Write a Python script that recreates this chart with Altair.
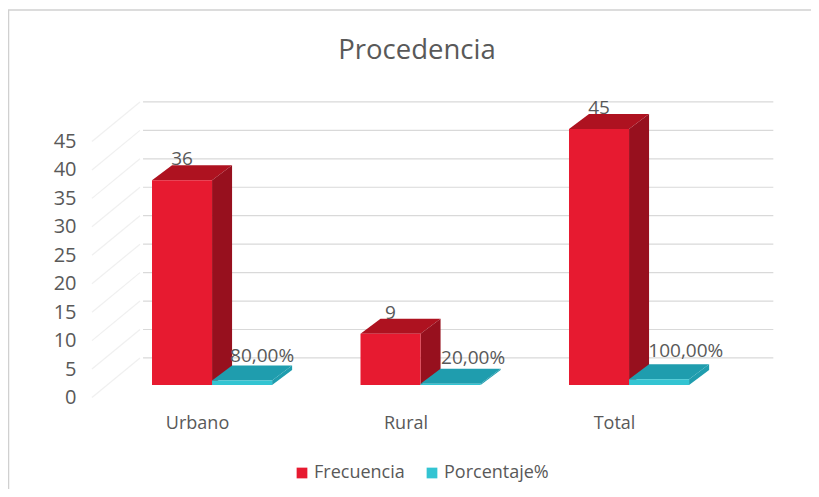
import altair as alt
import pandas as pd

title_text = "Procedencia"
categories = ["Urbano", "Rural", "Total"]
frecuencia = [36, 9, 45]
porcentaje = [0.8, 0.2, 1.0]
porcentaje_labels = ["80,00%", "20,00%", "100,00%"]
ticks = [0, 5, 10, 15, 20, 25, 30, 35, 40, 45]

FONT = "Open Sans"
TXT = "#595959"
BAR_W = 0.288
DX = 0.096
DY = 2.64
WALL = 4.75
X_DOM = [-0.307, 3.1607]
Y_DOM = [-4.394, 55.36]

RED = {"front": "#E71A30", "top": "#AE1220", "side": "#97101E"}
TEAL = {"front": "#33C4D2", "top": "#1F9DAE", "side": "#1F9DAE"}

fronts, faces = [], []
for i, cat in enumerate(categories):
    for j, (name, val, col) in enumerate(
        [("Frecuencia", frecuencia[i], RED), ("Porcentaje%", porcentaje[i], TEAL)]
    ):
        x0 = i + j * BAR_W
        x1 = x0 + BAR_W
        fronts.append({"x": x0, "x2": x1, "y": 0, "y2": val, "serie": name})
        top = [(x0, val, val), (x0 + DX, val + DY, val), (x1, val + DY, val), (x1 + DX, val + DY, val + DY)]
        side = [(x1, val, 0), (x1 + DX, val + DY, DY)]
        for face, pts in (("top", top), ("side", side)):
            for a, b, c in pts:
                faces.append({"x": a, "y": b, "y2": c, "id": f"{cat}-{name}-{face}", "c": col[face], "o": j})

x_scale = alt.Scale(domain=X_DOM, nice=False, zero=False)
y_scale = alt.Scale(domain=Y_DOM, nice=False, zero=False)

label_expr = "[" + ",".join(f"'{c}'" for c in categories) + "][round(datum.value-0.216)]"
x_axis = alt.Axis(values=[0.216, 1.216, 2.216], labelExpr=label_expr, title=None, domain=False, ticks=False,
                  grid=False, labelFont=FONT, labelFontSize=18, labelColor=TXT, labelPadding=4, labelOverlap=False)
y_axis = alt.Axis(values=ticks, tickCount=len(ticks), title=None, domain=False, ticks=False, grid=False,
                  labelFont=FONT, labelFontSize=20, labelColor=TXT, labelPadding=12, labelOffset=12.5,
                  labelOverlap=False, labelSeparation=0)

X = lambda f: alt.X(f, scale=x_scale, axis=x_axis)
Y = lambda f: alt.Y(f, scale=y_scale, axis=y_axis)

grid_df = pd.DataFrame({"v": [t + WALL for t in ticks], "x": -0.043, "x2": 2.98})
grid = alt.Chart(grid_df).mark_rule(color="#D9D9D9", strokeWidth=1.2).encode(
    x=X("x:Q"), x2="x2:Q", y=Y("v:Q"),
)

wall_rows = []
for t in ticks:
    wall_rows.append({"x": -0.288, "y": t - 2.2, "t": t})
    wall_rows.append({"x": -0.0576, "y": t + WALL, "t": t})
wall = alt.Chart(pd.DataFrame(wall_rows)).mark_line(color="#F0F0F0", strokeWidth=1.2).encode(
    x=X("x:Q"), y=Y("y:Q"), detail="t:N"
)

faces_df = pd.DataFrame(faces)
def face_layer(o):
    return alt.Chart(faces_df[faces_df.o == o]).mark_area(interpolate="linear").encode(
        x=X("x:Q"), y=Y("y:Q"), y2="y2:Q", detail="id:N",
        color=alt.Color("c:N", scale=None),
    )

fronts_df = pd.DataFrame(fronts)
front = alt.Chart(fronts_df).mark_rect().encode(
    x=X("x:Q"), x2="x2:Q", y=Y("y:Q"), y2="y2:Q",
    color=alt.Color(
        "serie:N",
        scale=alt.Scale(domain=["Frecuencia", "Porcentaje%"], range=[RED["front"], TEAL["front"]]),
        legend=alt.Legend(orient="none", legendX=205, legendY=394, direction="horizontal", title=None,
                          symbolType="square", symbolSize=115, symbolStrokeWidth=0, labelFont=FONT,
                          labelFontSize=18, labelColor=TXT, columnPadding=18, labelOffset=3),
    ),
)

lab_base = dict(font=FONT, fontSize=19, color=TXT, baseline="middle", align="center")
red_lab = pd.DataFrame({"x": [i + 0.144 for i in range(3)], "y": frecuencia, "t": [str(v) for v in frecuencia]})
labels_r = alt.Chart(red_lab).mark_text(dy=-21, **lab_base).encode(x=X("x:Q"), y=Y("y:Q"), text="t:N")

teal_x = [0.528, 1.54, 2.56]
teal_dy = [-24, -26, -28]
teal_layers = [
    alt.Chart(pd.DataFrame({"x": [teal_x[k]], "y": [porcentaje[k]], "t": [porcentaje_labels[k]]}))
    .mark_text(dy=teal_dy[k], **lab_base)
    .encode(x=X("x:Q"), y=Y("y:Q"), text="t:N")
    for k in range(3)
]

one = pd.DataFrame({"t": [title_text]})
title_mark = alt.Chart(one).mark_text(font=FONT, fontSize=27.5, color=TXT, align="center", baseline="middle",
                                      clip=False).encode(text="t:N", x=alt.value(329), y=alt.value(-19))

# thin outer frame of the original picture
frame_top = alt.Chart(one).mark_rule(color="#D0D0D0", strokeWidth=1.5, clip=False).encode(
    x=alt.value(-80), x2=alt.value(723), y=alt.value(-60))
frame_left = alt.Chart(one).mark_rule(color="#D0D0D0", strokeWidth=1.5, clip=False).encode(
    x=alt.value(-79.5), y=alt.value(-60), y2=alt.value(419))

chart = alt.layer(
    frame_top, frame_left, grid, wall, face_layer(0), face_layer(1), front, labels_r, *teal_layers, title_mark
).resolve_scale(color="independent").properties(
    width=723,
    height=340,
    padding={"left": 80, "top": 62, "right": 0, "bottom": 79},
    autosize=alt.AutoSizeParams(type="none"),
).configure_view(stroke=None)

chart.save("out.html", embed_options={"renderer": "svg", "actions": False})
